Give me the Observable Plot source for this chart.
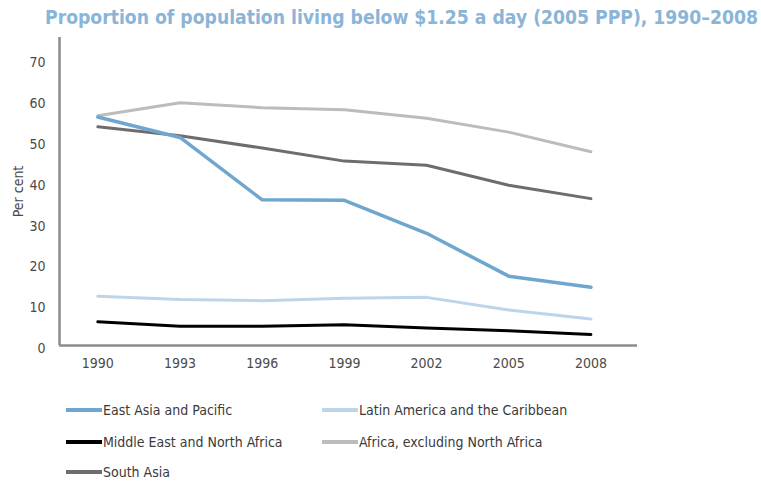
<!DOCTYPE html>
<html>
<head>
<meta charset="utf-8">
<script src="https://cdn.jsdelivr.net/npm/d3@7"></script>
<script src="https://cdn.jsdelivr.net/npm/@observablehq/plot@0.6"></script>
<style>
  html, body { margin: 0; padding: 0; background: #fff; }
  #wrap { position: relative; width: 761px; height: 483px; overflow: hidden; font-family: "DejaVu Sans Condensed", "DejaVu Sans", sans-serif; }
  #title { position: relative; height: 32px; }
  #title span { position: absolute; left: 45px; top: 5px; white-space: nowrap; font-weight: bold; font-size: 20px; color: #8ab5d8; transform-origin: 0 0; }
  #legend { position: relative; height: 101px; }
  .item { position: absolute; height: 20px; }
  .sw { position: absolute; top: 8px; width: 36px; height: 4px; }
  .lab { position: absolute; top: 0; line-height: 20px; font-size: 14px; color: #3a3a3a; white-space: nowrap; }
</style>
</head>
<body>
<div id="wrap">
  <div id="title"><span>Proportion of population living below $1.25 a day (2005 PPP), 1990–2008</span></div>
  <div id="chart"></div>
  <div id="legend"></div>
</div>
<script>
const years = [1990, 1993, 1996, 1999, 2002, 2005, 2008];
const yTicks = [0, 10, 20, 30, 40, 50, 60, 70];
const seriesNames = [
  "East Asia and Pacific",
  "Latin America and the Caribbean",
  "Middle East and North Africa",
  "Africa, excluding North Africa",
  "South Asia"
];
const eastAsia     = [56.0, 51.0, 35.7, 35.6, 27.5, 17.0, 14.3];
const latinAmerica = [12.1, 11.3, 11.0, 11.6, 11.8, 8.7, 6.5];
const middleEast   = [5.8, 4.7, 4.7, 5.1, 4.3, 3.6, 2.7];
const africa       = [56.3, 59.5, 58.3, 57.8, 55.7, 52.3, 47.5];
const southAsia    = [53.6, 51.4, 48.4, 45.2, 44.2, 39.3, 36.0];
const seriesColors = ["#6fa6cf", "#bcd5ea", "#000000", "#bcbcbc", "#6f6b6f"];

const seriesValues = [eastAsia, latinAmerica, middleEast, africa, southAsia];
const data = [];
seriesValues.forEach((vals, i) => {
  vals.forEach((v, j) => data.push({series: seriesNames[i], year: years[j], value: v}));
});
const drawOrder = [3, 4, 1, 2, 0];

const xDomain = [1988.6, 2009.7];
const axisColor = "#8d8a8d";

const chart = Plot.plot({
  width: 761,
  height: 350,
  marginLeft: 59,
  marginRight: 124,
  marginTop: 5,
  marginBottom: 37,
  style: {fontFamily: '"DejaVu Sans Condensed", "DejaVu Sans", sans-serif', fontSize: "14px", color: "#4a4a4a", background: "transparent"},
  x: {type: "linear", domain: xDomain},
  y: {domain: [0, 75.5]},
  color: {domain: seriesNames, range: seriesColors},
  marks: [
    Plot.axisX({ticks: years, tickSize: 0, tickPadding: 13, tickFormat: d => String(d), label: null, fontSize: 14}),
    Plot.axisY({ticks: yTicks, tickSize: 0, tickPadding: 14, dy: 3, label: "Per cent", labelAnchor: "center", labelArrow: "none", labelOffset: 46, fontSize: 14}),
    ...drawOrder.map(i => Plot.line(data.filter(d => d.series === seriesNames[i]), {
      x: "year", y: "value", stroke: "series", strokeWidth: i === 0 ? 3.5 : 3, strokeLinejoin: "round", strokeLinecap: "round"
    })),
    Plot.ruleY([0], {stroke: axisColor, strokeWidth: 2.5}),
    Plot.ruleX([xDomain[0]], {stroke: axisColor, strokeWidth: 2.5})
  ]
});
document.getElementById("chart").appendChild(chart);

// legend
const legendPos = [
  {top: 18, left: 66}, {top: 18, left: 322},
  {top: 50, left: 66}, {top: 50, left: 322},
  {top: 80, left: 66}
];
const legend = document.getElementById("legend");
seriesNames.forEach((name, i) => {
  const item = document.createElement("div");
  item.className = "item";
  item.style.top = legendPos[i].top + "px";
  item.style.left = legendPos[i].left + "px";
  const sw = document.createElement("div");
  sw.className = "sw";
  sw.style.left = "0px";
  sw.style.background = seriesColors[i];
  const lab = document.createElement("div");
  lab.className = "lab";
  lab.style.left = "37px";
  lab.textContent = name;
  item.appendChild(sw);
  item.appendChild(lab);
  legend.appendChild(item);
});

// fit title width
const t = document.querySelector("#title span");
const w = t.getBoundingClientRect().width;
t.style.transform = `scaleX(${713 / w})`;
</script>
</body>
</html>
